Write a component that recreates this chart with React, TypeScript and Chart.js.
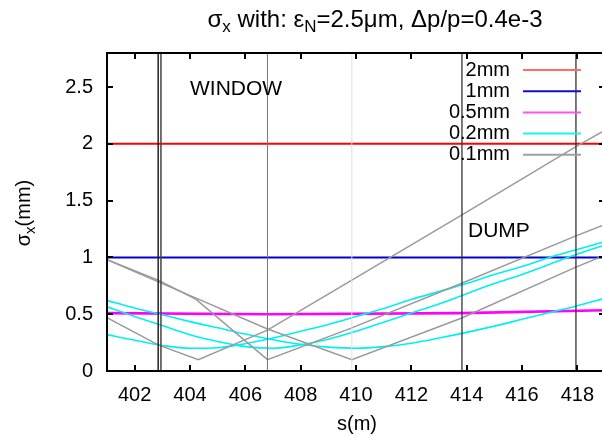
import React, { useEffect, useRef } from "react";
import { Chart, registerables } from "chart.js";

Chart.register(...registerables);

// ---- axis ticks ----
const X_TICKS = [402, 404, 406, 408, 410, 412, 414, 416, 418];
const Y_TICKS = [0, 0.5, 1, 1.5, 2, 2.5];

// ---- legend ----
const LEGEND_LABELS = ["2mm", "1mm", "0.5mm", "0.2mm", "0.1mm"];

// ---- flat beams ----
const S_FLAT = [401, 419];
const RED_2MM = [2.0, 2.0];
const BLUE_1MM = [1.0, 1.0];
const S_MAG = [401, 406.8, 413.8, 419];
const MAG_05MM = [0.51, 0.5, 0.51, 0.535];

// ---- 0.2 mm beams (cyan) ----
const S_GRID = [401, 402, 403, 404, 405, 406, 407, 408, 409, 410, 411, 412, 413, 414, 415, 416, 417, 418, 419];
const CYAN_A = [0.32, 0.27, 0.225, 0.2, 0.205, 0.24, 0.29, 0.35, 0.41, 0.48, 0.55, 0.63, 0.7, 0.77, 0.85, 0.92, 1.0, 1.07, 1.14];
const CYAN_B = [0.565, 0.48, 0.4, 0.32, 0.26, 0.215, 0.2, 0.23, 0.28, 0.35, 0.43, 0.51, 0.59, 0.68, 0.77, 0.85, 0.94, 1.03, 1.11];
const CYAN_C = [0.62, 0.555, 0.495, 0.435, 0.38, 0.325, 0.275, 0.235, 0.21, 0.2, 0.215, 0.245, 0.29, 0.34, 0.395, 0.455, 0.515, 0.575, 0.64];

// ---- 0.1 mm beams (grey) ----
const S_GREY_A = [401, 402.85, 404.3, 406.8, 409.85, 413.8, 417.95, 419];
const GREY_A = [0.47, 0.23, 0.1, 0.36, 0.8, 1.37, 1.976, 2.12];
const S_GREY_B = [401, 402.85, 404.22, 406.8, 409.85, 413.8, 417.95, 419];
const GREY_B = [0.98, 0.8, 0.63, 0.1, 0.38, 0.77, 1.19, 1.29];
const S_GREY_C = [401, 404.24, 406.8, 409.85, 413.8, 417.95, 419];
const GREY_C = [0.98, 0.64, 0.37, 0.1, 0.465, 0.915, 1.02];

// ---- element markers (vertical lines) ----
const MARKER_S = [402.85, 402.95, 406.8, 409.85, 413.83, 417.95];
const MARKER_COLORS = ["#222", "#444", "#777", "#ddd", "#333", "#333"];
const MARKER_WIDTHS = [1.5, 1.5, 1, 1, 1.3, 1.3];

const FONT = "'Liberation Sans', Arial, Helvetica, sans-serif";
const X_MIN = 401;
const X_MAX = 419;
const Y_MIN = 0;
const Y_MAX = 2.8;

const pts = (xs: number[], ys: number[]) => xs.map((x, i) => ({ x, y: ys[i] }));

const framePlugin = {
  id: "frameAndText",
  afterDatasetsDraw(chart: any) {
    const { ctx, chartArea } = chart;
    const { left, right, top, bottom } = chartArea;
    const xs = chart.scales.x;
    const ys = chart.scales.y;
    ctx.save();
    // frame
    ctx.strokeStyle = "#000";
    ctx.lineWidth = 2;
    ctx.strokeRect(left, top, right - left, bottom - top);
    // inward ticks
    ctx.lineWidth = 2;
    ctx.beginPath();
    for (const v of X_TICKS) {
      const px = Math.round(xs.getPixelForValue(v));
      ctx.moveTo(px, bottom);
      ctx.lineTo(px, bottom - 6);
      ctx.moveTo(px, top);
      ctx.lineTo(px, top + 6);
    }
    for (const v of Y_TICKS) {
      const py = Math.round(ys.getPixelForValue(v));
      ctx.moveTo(left, py);
      ctx.lineTo(left + 6, py);
      ctx.moveTo(right, py);
      ctx.lineTo(right - 6, py);
    }
    ctx.stroke();

    // labels in plot
    ctx.fillStyle = "#000";
    ctx.font = `21px ${FONT}`;
    ctx.textBaseline = "alphabetic";
    ctx.textAlign = "left";
    ctx.fillText("WINDOW", 190, 95);
    ctx.fillText("DUMP", 468, 237);

    // legend
    const legendColors = ["#ff6a6a", "#1010c8", "#ff50ff", "#20f0f0", "#a0a0a0"];
    ctx.font = `20px ${FONT}`;
    ctx.textAlign = "right";
    ctx.textBaseline = "middle";
    LEGEND_LABELS.forEach((lab, i) => {
      const y = 70 + i * 21.2;
      ctx.fillStyle = "#000";
      ctx.fillText(lab, 510, y);
      ctx.strokeStyle = legendColors[i];
      ctx.lineWidth = 2;
      ctx.beginPath();
      ctx.moveTo(523, y);
      ctx.lineTo(581, y);
      ctx.stroke();
    });

    // title with subscripts
    const big = `24px ${FONT}`;
    const small = `17px ${FONT}`;
    const parts: [string, boolean][] = [
      ["σ", false],
      ["x", true],
      [" with: ε", false],
      ["N", true],
      ["=2.5μm, Δp/p=0.4e-3", false],
    ];
    let total = 0;
    for (const [t, sub] of parts) {
      ctx.font = sub ? small : big;
      total += ctx.measureText(t).width;
    }
    let tx = 375 - total / 2;
    ctx.textAlign = "left";
    ctx.textBaseline = "alphabetic";
    ctx.fillStyle = "#000";
    for (const [t, sub] of parts) {
      ctx.font = sub ? small : big;
      ctx.fillText(t, tx, sub ? 32 : 27);
      tx += ctx.measureText(t).width;
    }

    // x-axis title
    ctx.font = `20px ${FONT}`;
    ctx.textAlign = "center";
    ctx.textBaseline = "middle";
    ctx.fillText("s(m)", 357, 424);

    // y-axis title (rotated)
    ctx.translate(23, 213);
    ctx.rotate(-Math.PI / 2);
    const yparts: [string, boolean][] = [
      ["σ", false],
      ["x", true],
      ["(mm)", false],
    ];
    let ytotal = 0;
    for (const [t, sub] of yparts) {
      ctx.font = sub ? `15px ${FONT}` : `20px ${FONT}`;
      ytotal += ctx.measureText(t).width;
    }
    let yx = -ytotal / 2;
    ctx.textAlign = "left";
    ctx.textBaseline = "alphabetic";
    for (const [t, sub] of yparts) {
      ctx.font = sub ? `15px ${FONT}` : `20px ${FONT}`;
      ctx.fillText(t, yx, sub ? 12 : 7);
      yx += ctx.measureText(t).width;
    }
    ctx.restore();
  },
};

export default function App() {
  const ref = useRef<HTMLCanvasElement | null>(null);

  useEffect(() => {
    if (!ref.current) return;
    const markerSets = MARKER_S.map((s, i) => ({
      data: pts([s, s], [Y_MIN, Y_MAX]),
      borderColor: MARKER_COLORS[i],
      borderWidth: MARKER_WIDTHS[i],
      pointRadius: 0,
      fill: false,
    }));
    const line = (xs: number[], ys: number[], color: string, width: number) => ({
      data: pts(xs, ys),
      borderColor: color,
      borderWidth: width,
      pointRadius: 0,
      fill: false,
      tension: 0,
    });
    const datasets: any[] = [
      ...markerSets,
      line(S_GREY_A, GREY_A, "#9a9a9a", 1.5),
      line(S_GREY_B, GREY_B, "#9a9a9a", 1.5),
      line(S_GREY_C, GREY_C, "#9a9a9a", 1.5),
      { ...line(S_GRID, CYAN_A, "#00f0f0", 1.6), cubicInterpolationMode: "monotone" },
      { ...line(S_GRID, CYAN_B, "#00f0f0", 1.6), cubicInterpolationMode: "monotone" },
      { ...line(S_GRID, CYAN_C, "#00f0f0", 1.6), cubicInterpolationMode: "monotone" },
      line(S_MAG, MAG_05MM, "#ff00ff", 2.6),
      line(S_FLAT, BLUE_1MM, "#0000d0", 2),
      line(S_FLAT, RED_2MM, "#ff0000", 2),
    ];
    const tickFont = { family: FONT, size: 20 };
    const chart = new Chart(ref.current, {
      type: "line",
      data: { datasets },
      options: {
        animation: false,
        responsive: false,
        maintainAspectRatio: false,
        layout: { padding: { top: 53, right: 5, left: 0, bottom: 0 } },
        plugins: {
          legend: { display: false },
          title: { display: false },
          tooltip: { enabled: false },
        },
        scales: {
          x: {
            type: "linear",
            min: X_MIN,
            max: X_MAX,
            afterBuildTicks: (s: any) => {
              s.ticks = X_TICKS.map((v) => ({ value: v }));
            },
            afterFit: (s: any) => {
              s.height = 65;
            },
            grid: { display: false, drawTicks: false },
            border: { display: false },
            ticks: {
              font: tickFont,
              color: "#000",
              padding: 12,
              maxRotation: 0,
              autoSkip: false,
              callback: (v: any) => String(v),
            },
          },
          y: {
            type: "linear",
            min: Y_MIN,
            max: Y_MAX,
            afterBuildTicks: (s: any) => {
              s.ticks = Y_TICKS.map((v) => ({ value: v }));
            },
            afterFit: (s: any) => {
              s.width = 107;
            },
            grid: { display: false, drawTicks: false },
            border: { display: false },
            ticks: {
              font: tickFont,
              color: "#000",
              padding: 14,
              autoSkip: false,
              callback: (v: any) => String(v),
            },
          },
        },
      },
      plugins: [framePlugin],
    });
    return () => chart.destroy();
  }, []);

  return (
    <div
      style={{
        position: "fixed",
        left: 0,
        top: 0,
        width: 602,
        height: 436,
        overflow: "hidden",
        background: "#fff",
      }}
    >
      <canvas ref={ref} width={610} height={436} style={{ display: "block" }} />
    </div>
  );
}
